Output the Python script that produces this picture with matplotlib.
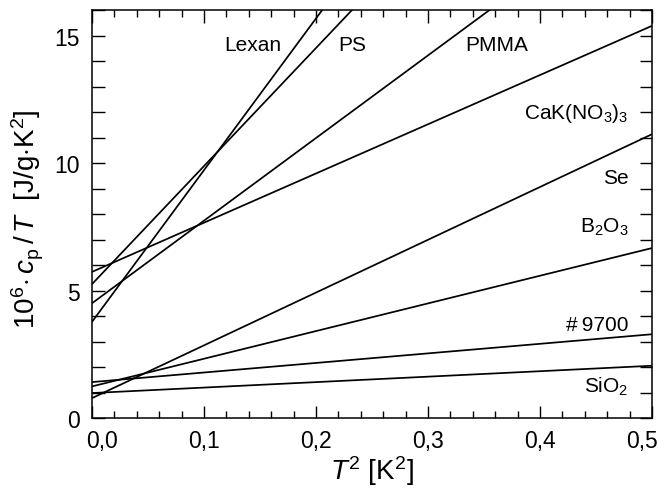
import matplotlib
matplotlib.use("Agg")
import matplotlib.pyplot as plt
from matplotlib.ticker import MultipleLocator, FuncFormatter
import numpy as np

plt.rcParams['font.family'] = ['Liberation Sans', 'DejaVu Sans']
plt.rcParams['mathtext.fontset'] = 'custom'
plt.rcParams['mathtext.rm'] = 'Liberation Sans'
plt.rcParams['mathtext.it'] = 'Liberation Sans:italic'
plt.rcParams['mathtext.bf'] = 'Liberation Sans:bold'

# linear fits cp/T = gamma + beta*T^2 (units 1e-6 J/g K^2)
materials = ["Lexan", "PS", "PMMA", "CaK(NO$_3$)$_3$", "Se", "B$_2$O$_3$", "#\u20099700", "SiO$_2$"]
intercepts = [3.77, 5.25, 4.50, 5.73, 0.78, 1.24, 1.41, 0.98]
slopes = [59.5, 46.3, 32.4, 19.3, 20.7, 10.85, 3.75, 2.14]

# where each name is written
label_x = [0.144, 0.232, 0.361, 0.479, 0.479, 0.479, 0.479, 0.479]
label_y = [14.65, 14.65, 14.65, 12.0, 9.44, 7.52, 3.68, 1.25]
label_ha = ["center", "center", "center", "right", "right", "right", "right", "right"]

x_ticks = [0.0, 0.1, 0.2, 0.3, 0.4, 0.5]
x_min, x_max = 0.0, 0.5
y_min, y_max = 0.0, 16.0

fig = plt.figure(figsize=(6.59, 4.89), dpi=100)
ax = fig.add_axes([0.1396, 0.1431, 0.8498, 0.8344])

t2 = np.array([x_min, x_max])
for a, b in zip(intercepts, slopes):
    ax.plot(t2, a + b * t2, color='black', lw=1.25, solid_capstyle='butt')

for name, lx, ly, ha in zip(materials, label_x, label_y, label_ha):
    ax.text(lx, ly, name, ha=ha, va='center', fontsize=15)

ax.set_xlim(x_min, x_max)
ax.set_ylim(y_min, y_max)

ax.set_xticks(x_ticks)
ax.xaxis.set_minor_locator(MultipleLocator(0.02))
ax.yaxis.set_major_locator(MultipleLocator(5))
ax.yaxis.set_minor_locator(MultipleLocator(1))

def comma_fmt(v):
    return f"{v:.1f}".replace(".", ",")

# end labels are drawn by hand, nudged inside the frame
ax.xaxis.set_major_formatter(FuncFormatter(
    lambda v, p: "" if v in (x_ticks[0], x_ticks[-1]) else comma_fmt(v)))
for v, dx in [(x_ticks[0], 7), (x_ticks[-1], -7)]:
    ax.annotate(comma_fmt(v), xy=(v, 0), xycoords=('data', 'axes fraction'),
                xytext=(dx, -8), textcoords='offset points',
                ha='center', va='top', fontsize=16.5)

ax.tick_params(which='both', direction='in', top=True, right=True, width=1.0, labelsize=16.5)
ax.tick_params(axis='x', which='major', length=9, pad=8)
ax.tick_params(axis='x', which='minor', length=5)
ax.tick_params(axis='y', which='both', length=9, pad=9)
for sp in ax.spines.values():
    sp.set_linewidth(1.1)

ax.set_xlabel(r"$T^2$ [K$^2$]", fontsize=20, labelpad=1)
ax.set_ylabel(r"10$^6\!\cdot c_\mathrm{p}\,/\,T$  [J/g$\cdot$K$^2$]", fontsize=20)
ax.yaxis.set_label_coords(-0.083, 0.49)

fig.savefig("out.png", dpi=100)
